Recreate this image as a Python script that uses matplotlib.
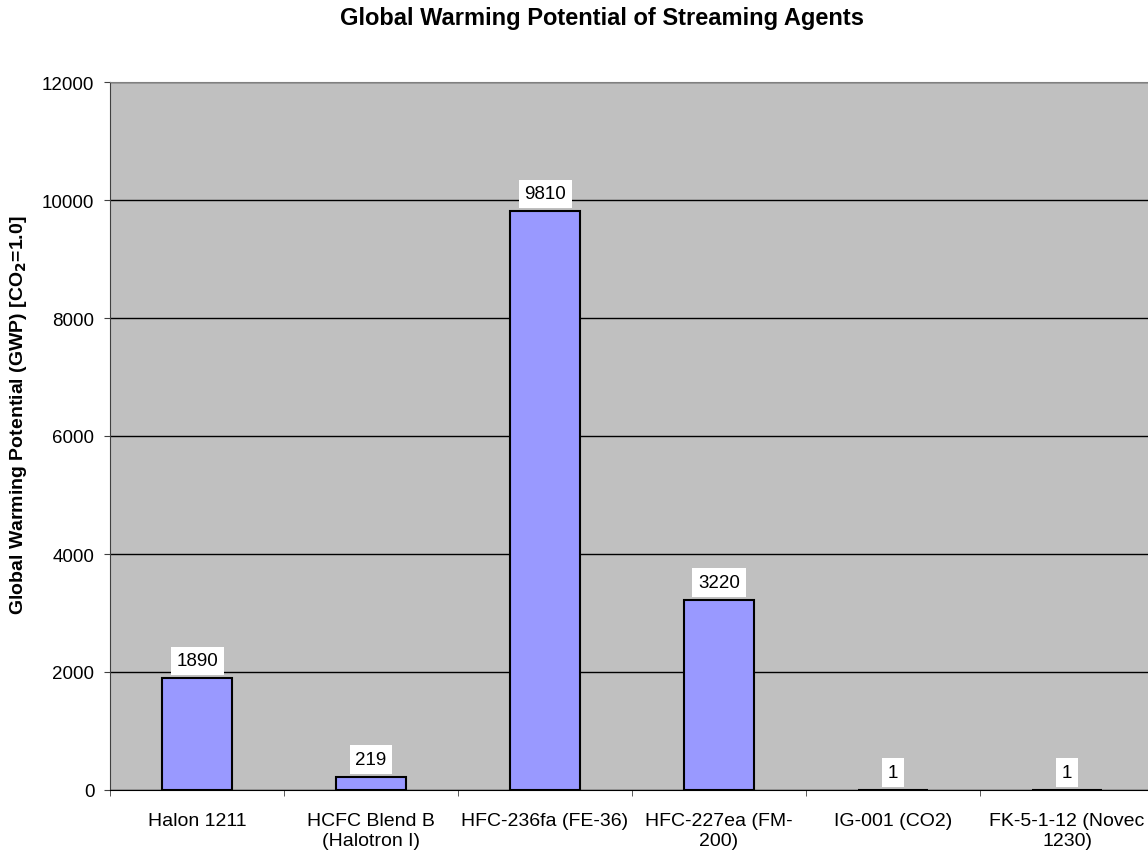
import matplotlib
matplotlib.use('Agg')
import matplotlib.pyplot as plt
import numpy as np

plt.rcParams['font.family'] = ['Liberation Sans', 'DejaVu Sans']

agents = ['Halon 1211', 'HCFC Blend B\n(Halotron I)', 'HFC-236fa (FE-36)',
          'HFC-227ea (FM-\n200)', 'IG-001 (CO2)', 'FK-5-1-12 (Novec\n1230)']
gwp = [1890, 219, 9810, 3220, 1, 1]
yticks = [0, 2000, 4000, 6000, 8000, 10000, 12000]


def main():
    fig = plt.figure(figsize=(11.48, 8.54), dpi=100)
    ax = fig.add_axes([110 / 1148, 63 / 854, 1044 / 1148, 708 / 854])
    ax.set_facecolor('#C0C0C0')

    x = np.arange(len(agents))
    ax.bar(x, gwp, width=0.4, color='#9999FF', edgecolor='black', linewidth=1.5, zorder=3)

    for xi, v in zip(x, gwp):
        ax.annotate(str(v), (xi, v), xytext=(0, 6.5), textcoords='offset points',
                    ha='center', va='bottom', fontsize=13.5,
                    bbox=dict(boxstyle='square,pad=0.3', facecolor='white', edgecolor='none'),
                    zorder=4)

    ax.set_xlim(-0.5, len(agents) - 0.5)
    ax.set_ylim(0, 12000)
    ax.set_yticks(yticks)
    ax.yaxis.grid(True, color='black', linewidth=1, zorder=1)
    ax.set_axisbelow(True)

    ax.set_xticks(x)
    ax.set_xticklabels(agents, fontsize=14, linespacing=1.2)
    ax.tick_params(axis='x', length=0, pad=16)
    ax.set_xticks(np.arange(len(agents) + 1) - 0.5, minor=True)
    ax.tick_params(axis='x', which='minor', length=4, color='#404040')
    ax.tick_params(axis='y', labelsize=13.5, length=4.3, pad=7, color='#404040')

    ax.spines['top'].set_color('#808080')
    ax.spines['left'].set_color('#404040')
    ax.spines['bottom'].set_color('black')
    ax.spines['right'].set_visible(False)

    fig.text(19 / 1148, 1 - 415 / 854,
             'Global Warming Potential (GWP) [CO$_\\mathbf{2}$=1.0]',
             fontsize=14, fontweight='bold', rotation=90, ha='center', va='center')
    fig.text(602 / 1148, 1 - 19 / 854, 'Global Warming Potential of Streaming Agents',
             fontsize=17, fontweight='bold', ha='center', va='center')

    fig.savefig('out.png', dpi=100)


if __name__ == "__main__":
    main()
